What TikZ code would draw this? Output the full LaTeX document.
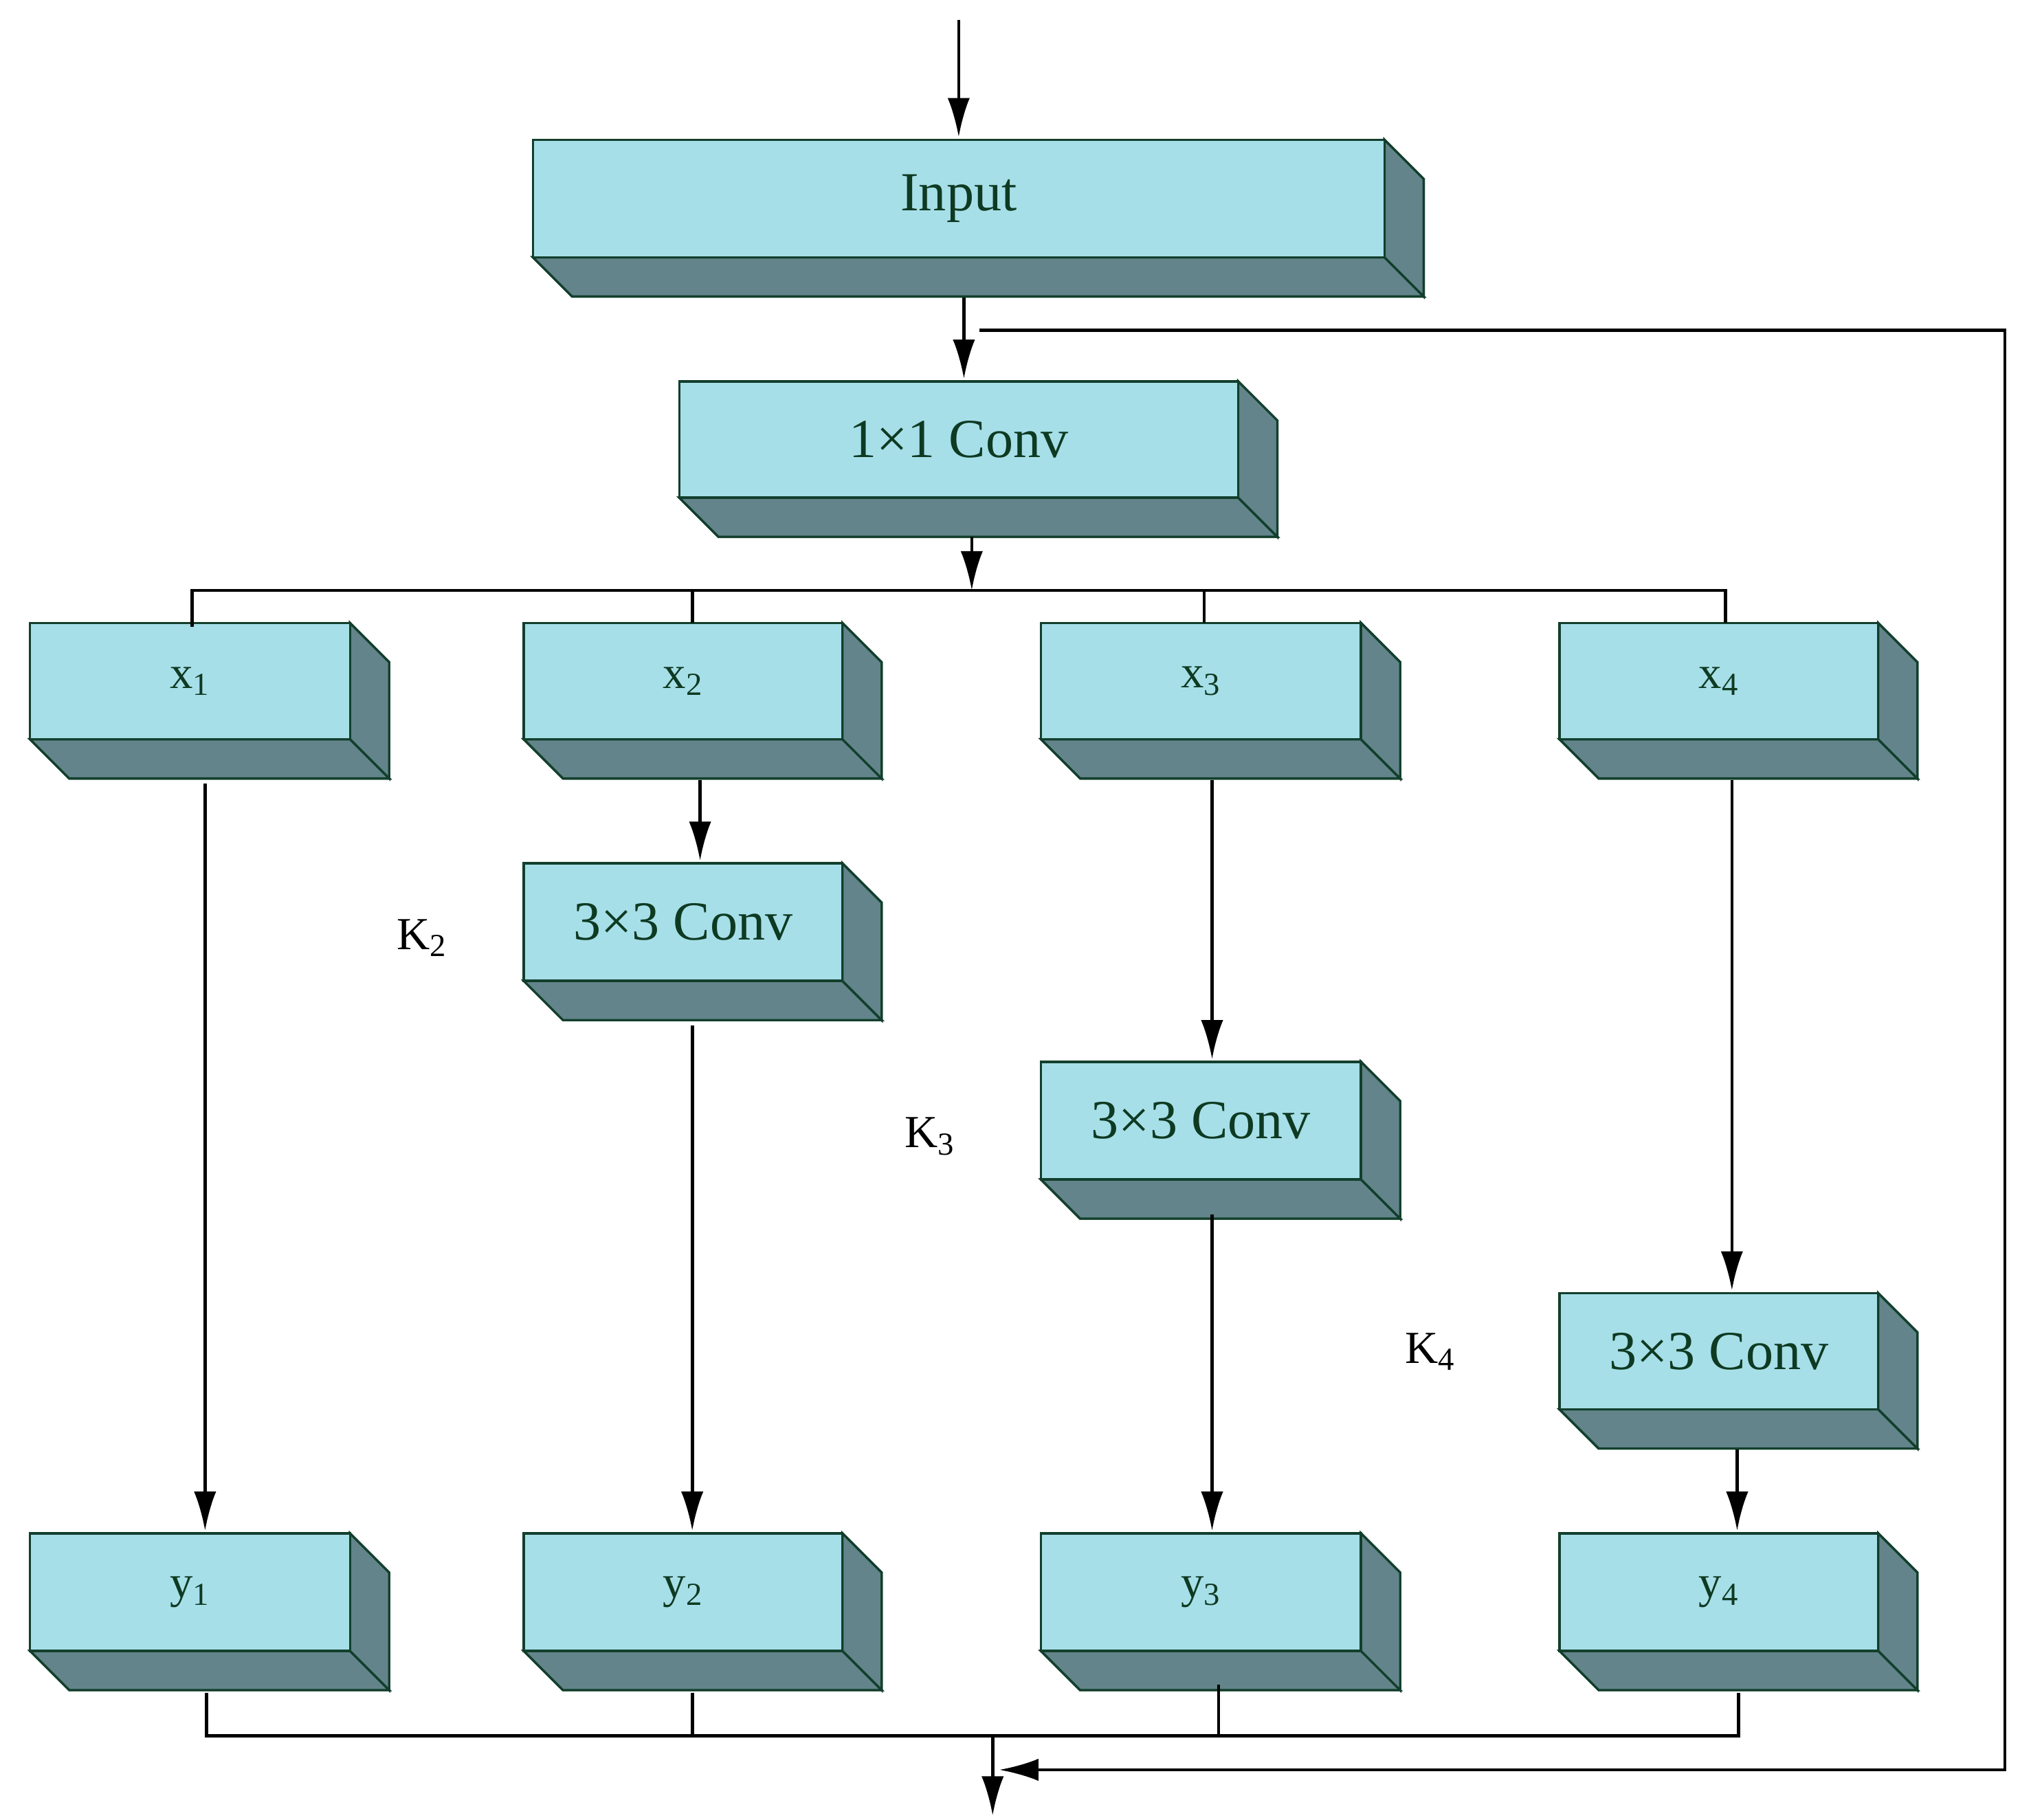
\documentclass[tikz,border=0pt]{standalone}
\usepackage{fontspec}
\setmainfont{Liberation Serif}
\usetikzlibrary{arrows.meta}
\definecolor{front}{HTML}{A6DFE8}
\definecolor{side}{HTML}{62848A}
\definecolor{edge}{HTML}{123F2C}
\definecolor{txt}{HTML}{0E3A22}
\tikzset{
  face/.style={fill=front,draw=edge,line width=1pt},
  dface/.style={fill=side,draw=edge,line width=1pt},
  arr/.style={line width=1.4pt,-{Latex[length=0.6cm,width=0.34cm]}},
  ln/.style={line width=1.4pt},
  lbl/.style={text=txt,font=\fontsize{24}{28}\selectfont},
  slbl/.style={text=txt,font=\fontsize{20}{24}\selectfont},
  klbl/.style={font=\fontsize{20}{24}\selectfont}
}
% name, x1, y1, x2, y2, style, text
\newcommand{\mybox}[7]{%
  \fill[dface] (#2,#5) -- (#4,#5) -- (#4+30,#5+30) -- (#2+30,#5+30) -- cycle;
  \fill[dface] (#4,#3) -- (#4+30,#3+30) -- (#4+30,#5+30) -- (#4,#5) -- cycle;
  \draw[dface] (#2,#5) -- (#4,#5) -- (#4+30,#5+30) -- (#2+30,#5+30) -- cycle;
  \draw[dface] (#4,#3) -- (#4+30,#3+30) -- (#4+30,#5+30) -- (#4,#5) -- cycle;
  \draw[face] (#2,#3) rectangle (#4,#5);
  \node[#6] (#1) at ({(#2+#4)/2},{(#3+#5)/2}) {#7};
  \coordinate (#1b) at ({(#2+#4)/2+15},#5+30);
}
\begin{document}
\begin{tikzpicture}[x=0.02cm,y=-0.02cm]
\useasboundingbox (0,0) rectangle (1555,1393);
\mybox{in}{408}{107}{1060}{197}{lbl}{Input}
\mybox{c1}{520}{292}{948}{381}{lbl}{1×1 Conv}
\mybox{x1}{23}{477}{268}{566}{slbl}{x\textsubscript{1}}
\mybox{x2}{401}{477}{645}{566}{slbl}{x\textsubscript{2}}
\mybox{x3}{797}{477}{1042}{566}{slbl}{x\textsubscript{3}}
\mybox{x4}{1194}{477}{1438}{566}{slbl}{x\textsubscript{4}}
\mybox{k2}{401}{661}{645}{751}{lbl}{3×3 Conv}
\mybox{k3}{797}{813}{1042}{903}{lbl}{3×3 Conv}
\mybox{k4}{1194}{990}{1438}{1079}{lbl}{3×3 Conv}
\mybox{y1}{23}{1174}{268}{1264}{slbl}{y\textsubscript{1}}
\mybox{y2}{401}{1174}{645}{1264}{slbl}{y\textsubscript{2}}
\mybox{y3}{797}{1174}{1042}{1264}{slbl}{y\textsubscript{3}}
\mybox{y4}{1194}{1174}{1438}{1264}{slbl}{y\textsubscript{4}}
\node[klbl] (K2) at (323,718) {K\textsubscript{2}};
\node[klbl] (K3) at (712,870) {K\textsubscript{3}};
\node[klbl] (K4) at (1095,1035) {K\textsubscript{4}};
\coordinate (top) at (734,15);
\coordinate (bot) at (760,1390);
\draw[arr] (top) -- (734,105);
\draw[arr] (738,228) -- (738,290);
\draw[ln] (750,253) -- (1535,253) -- (1535,1355) -- (800,1355);
\draw[arr] (1000,1355) -- (765,1355);
\draw[arr] (744,411) -- (744,452);
\draw[ln] (147,480) -- (147,452) -- (1321,452) -- (1321,477);
\draw[ln] (530,452) -- (530,477);
\draw[ln] (922,452) -- (922,477);
\draw[arr] (157,600) -- (157,1172);
\draw[arr] (536,597) -- (536,659);
\draw[arr] (530,785) -- (530,1172);
\draw[arr] (928,597) -- (928,811);
\draw[arr] (928,930) -- (928,1172);
\draw[arr] (1326,597) -- (1326,988);
\draw[arr] (1330,1110) -- (1330,1172);
\draw[ln] (158,1296) -- (158,1329) -- (1331,1329) -- (1331,1296);
\draw[ln] (530,1296) -- (530,1329);
\draw[ln] (933,1290) -- (933,1329);
\draw[arr] (760,1329) -- (bot);
\end{tikzpicture}
\end{document}
